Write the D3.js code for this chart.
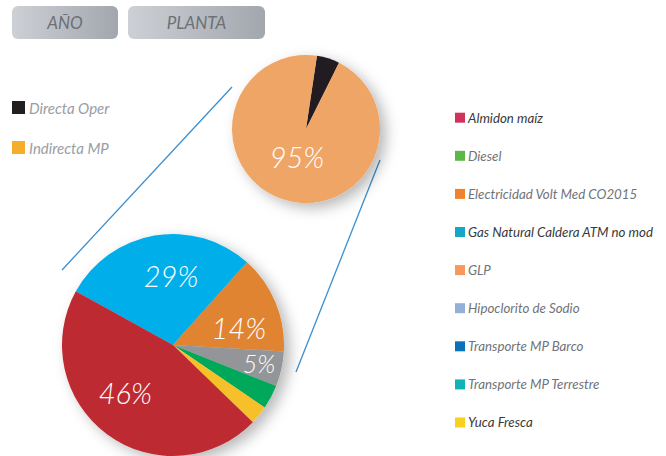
<!DOCTYPE html>
<html>
<head>
<meta charset="utf-8">
<script src="https://cdn.jsdelivr.net/npm/d3@7"></script>
<style>
  html, body { margin: 0; padding: 0; background: #fff; }
  svg { display: block; font-family: Lato, "Open Sans", sans-serif; }
</style>
</head>
<body>
<svg id="chart" width="666" height="456"></svg>
<script>
// Filter buttons
const buttons = ["AÑO", "PLANTA"];

// Breakdown by emission type (small pie)
const typeNames = ["Directa Oper", "Indirecta MP"];
const typeValues = [5, 95];
const typePieColors = ["#231F20", "#EFA566"];
const typeLegendColors = ["#231F20", "#F6AE2A"];

// Breakdown of the indirect share by source (large pie)
const sourceNames = ["Gas Natural", "Electricidad", "Otros", "Diesel", "Yuca Fresca", "Almidon maíz"];
const sourceValues = [28.6, 14.3, 5.1, 3.5, 2.7, 45.8];
const sourcePieColors = ["#00AEEA", "#E08433", "#939598", "#00A85A", "#F5C02A", "#BE2A31"];

// Source legend
const legendNames = ["Almidon maíz", "Diesel", "Electricidad Volt Med CO2015", "Gas Natural Caldera ATM no mod",
  "GLP", "Hipoclorito de Sodio", "Transporte MP Barco", "Transporte MP Terrestre", "Yuca Fresca"];
const legendColors = ["#D0325E", "#5BB846", "#F0822F", "#15A6C9", "#F5995E", "#93B1D7", "#0A72BA", "#11B3B5", "#F8D11F"];
const legendActive = [true, false, false, true, false, false, false, false, true];

const svg = d3.select("#chart");
const defs = svg.append("defs");

const grad = defs.append("linearGradient").attr("id", "btnGrad").attr("x1", "0").attr("x2", "1");
grad.append("stop").attr("offset", "0").attr("stop-color", "#CDD0D5");
grad.append("stop").attr("offset", "1").attr("stop-color", "#A2A7AE");

const shadow = defs.append("filter").attr("id", "pieShadow")
  .attr("x", "-30%").attr("y", "-30%").attr("width", "160%").attr("height", "160%");
shadow.append("feDropShadow").attr("dx", 6).attr("dy", 5).attr("stdDeviation", 7)
  .attr("flood-color", "#000").attr("flood-opacity", 0.28);

// Buttons
const btnX = d3.scaleOrdinal().domain(buttons).range([12, 128]);
const btnW = d3.scaleOrdinal().domain(buttons).range([106, 137]);
const btn = svg.selectAll("g.btn").data(buttons).join("g").attr("class", "btn")
  .attr("transform", d => `translate(${btnX(d)},6)`);
btn.append("rect").attr("width", d => btnW(d)).attr("height", 33).attr("rx", 6)
  .attr("fill", "url(#btnGrad)");
btn.append("text").attr("x", d => btnW(d) / 2).attr("y", 22.5)
  .attr("text-anchor", "middle").attr("font-size", 17).attr("font-style", "italic")
  .attr("fill", "#6C7077").text(d => d);

// Connector lines between the pies
const connectors = [[[62, 270], [232, 87]], [[380, 160], [296, 372]]];
svg.selectAll("line.conn").data(connectors).join("line").attr("class", "conn")
  .attr("x1", d => d[0][0]).attr("y1", d => d[0][1])
  .attr("x2", d => d[1][0]).attr("y2", d => d[1][1])
  .attr("stroke", "#3A8FD0").attr("stroke-width", 1.3);

// Type legend (top left)
const typeY = d3.scalePoint().domain(typeNames).range([101, 141]);
const tl = svg.selectAll("g.tleg").data(typeNames).join("g").attr("class", "tleg")
  .attr("transform", d => `translate(12,${typeY(d)})`);
tl.append("rect").attr("width", 13).attr("height", 13).attr("fill", (d, i) => typeLegendColors[i]);
tl.append("text").attr("x", 17).attr("y", 12.5).attr("font-size", 15).attr("font-style", "italic")
  .attr("fill", "#9A9DA3").text(d => d);

// Source legend (right)
const legY = d3.scalePoint().domain(legendNames).range([112.7, 417.5]);
const sl = svg.selectAll("g.sleg").data(legendNames).join("g").attr("class", "sleg")
  .attr("transform", d => `translate(455,${legY(d)})`);
sl.append("rect").attr("width", 10).attr("height", 10).attr("fill", (d, i) => legendColors[i]);
sl.append("text").attr("x", 13).attr("y", 9.8).attr("font-size", 13.3).attr("font-style", "italic")
  .attr("fill", (d, i) => legendActive[i] ? "#3A3A3C" : "#707379").text(d => d);

const deg = Math.PI / 180;

// Small pie
const smallR = 74;
const smallPie = d3.pie().sort(null).startAngle(8.5 * deg).endAngle(368.5 * deg);
const smallArcs = smallPie(typeValues);
const smallArc = d3.arc().innerRadius(0).outerRadius(smallR);
const gSmall = svg.append("g").attr("transform", "translate(306,129)");
gSmall.append("g").attr("filter", "url(#pieShadow)")
  .selectAll("path").data(smallArcs).join("path")
  .attr("d", smallArc).attr("fill", (d, i) => typePieColors[i]);
gSmall.selectAll("text").data(smallArcs.filter(d => d.value >= 10)).join("text")
  .attr("transform", d => {
    const a = (d.startAngle + d.endAngle) / 2;
    return `translate(${Math.sin(a) * 30},${-Math.cos(a) * 30})`;
  })
  .attr("dy", "0.36em").attr("text-anchor", "middle").attr("font-size", 29)
  .attr("font-style", "italic").attr("font-weight", 300).attr("fill", "#fff")
  .text(d => Math.round(d.value) + "%");

// Large pie
const bigR = 111;
const bigPie = d3.pie().sort(null).startAngle(-61.1 * deg).endAngle(298.9 * deg);
const bigArcs = bigPie(sourceValues);
const bigArc = d3.arc().innerRadius(0).outerRadius(bigR);
const gBig = svg.append("g").attr("transform", "translate(173,345)");
gBig.append("g").attr("filter", "url(#pieShadow)")
  .selectAll("path").data(bigArcs).join("path")
  .attr("d", bigArc).attr("fill", (d, i) => sourcePieColors[i]);
gBig.selectAll("text").data(bigArcs.filter(d => d.value >= 5)).join("text")
  .attr("transform", d => {
    const small = (d.endAngle - d.startAngle) < 0.4;
    // wide slices: label sits a little clockwise of the mid-angle
    const a = (d.startAngle + d.endAngle) / 2 + (small ? 0 : 8 * deg);
    const r = small ? 88 : 68;
    return `translate(${Math.sin(a) * r},${-Math.cos(a) * r})`;
  })
  .attr("dy", "0.36em").attr("text-anchor", "middle")
  .attr("font-size", d => (d.endAngle - d.startAngle) < 0.4 ? 25 : 29)
  .attr("font-style", "italic").attr("font-weight", 300).attr("fill", "#fff")
  .text(d => Math.round(d.value) + "%");
</script>
</body>
</html>
